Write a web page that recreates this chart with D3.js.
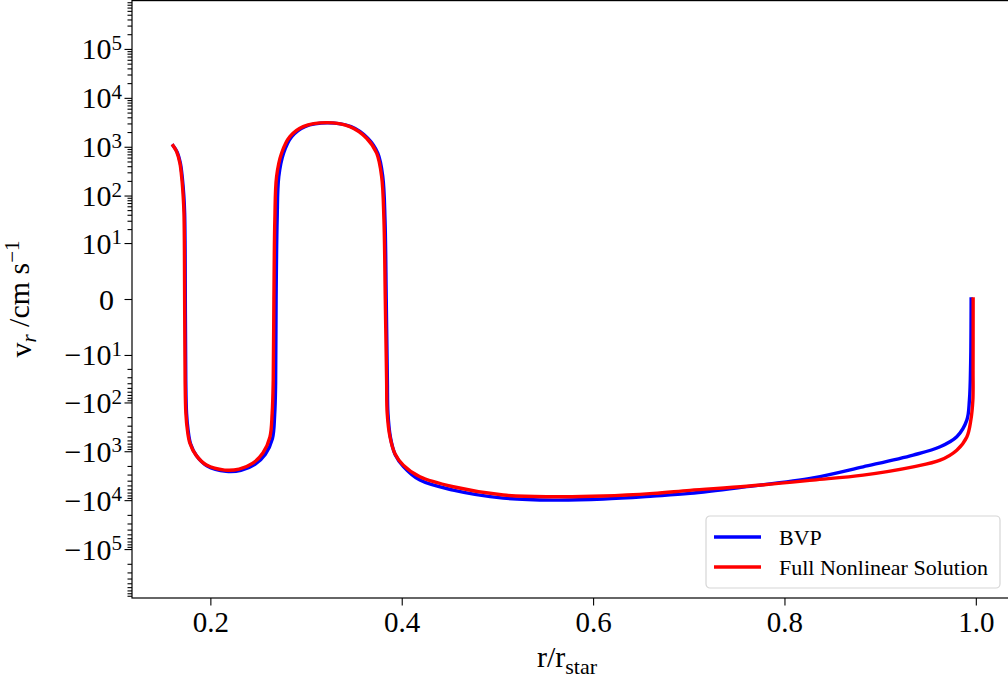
<!DOCTYPE html>
<html>
<head>
<meta charset="utf-8">
<script src="https://cdn.jsdelivr.net/npm/d3@7"></script>
<style>
  body { margin: 0; background: #fff; }
  text { font-family: "Liberation Serif", "DejaVu Serif", serif; fill: #000; }
</style>
</head>
<body>
<svg id="chart" width="1008" height="681"></svg>
<script>
// BVP solution, r/r_star and v_r (cm/s)
var bvpR = [0.1611, 0.1651, 0.1686, 0.1709, 0.1723, 0.1731, 0.1736, 0.1743, 0.1751, 0.1767, 0.1793, 0.1857, 0.1967, 0.2165, 0.2320, 0.2466, 0.2575, 0.2648, 0.2672, 0.2682, 0.2687, 0.2698, 0.2715, 0.2765, 0.2850, 0.2988, 0.3228, 0.3470, 0.3645, 0.3750, 0.3802, 0.3825, 0.3838, 0.3850, 0.3856, 0.3882, 0.3932, 0.4018, 0.4190, 0.4538, 0.5061, 0.5584, 0.6107, 0.6629, 0.7013, 0.7606, 0.8299, 0.8822, 0.9345, 0.9627, 0.9801, 0.9906, 0.9933, 0.9946, 0.9951];
var bvpV = [1050, 796, 467, 210, 96, 44, 7, -35, -166, -369, -700, -1250, -2000, -2560, -2450, -1850, -1150, -560, -180, -40, 0, 32, 245, 738, 1611, 2582, 3080, 2582, 1496, 738, 245, 32, 0, -35, -166, -520, -1180, -2050, -3890, -6220, -9070, -9970, -9500, -8260, -7280, -5300, -3500, -2080, -1200, -810, -506, -231, -90, -15, 0];

// full nonlinear solution
var nlR = [0.1611, 0.1647, 0.1681, 0.1703, 0.1716, 0.1724, 0.1729, 0.1736, 0.1744, 0.1760, 0.1786, 0.1850, 0.1960, 0.2150, 0.2300, 0.2444, 0.2549, 0.2622, 0.2646, 0.2657, 0.2664, 0.2674, 0.2692, 0.2744, 0.2831, 0.2970, 0.3215, 0.3458, 0.3633, 0.3738, 0.3790, 0.3814, 0.3828, 0.3842, 0.3848, 0.3877, 0.3929, 0.4016, 0.4190, 0.4538, 0.5061, 0.5584, 0.6107, 0.6629, 0.7013, 0.7606, 0.8299, 0.8822, 0.9345, 0.9627, 0.9801, 0.9906, 0.9948, 0.9969, 0.9971, 0.9972];
var nlV = [1050, 796, 467, 210, 96, 44, 7, -35, -166, -369, -681, -1200, -1920, -2430, -2320, -1750, -1090, -513, -166, -35, 0, 32, 245, 738, 1611, 2582, 3114, 2582, 1496, 738, 245, 32, 0, -35, -166, -506, -1120, -1920, -3330, -5330, -7870, -8530, -8250, -7280, -6300, -5200, -3890, -3070, -2080, -1520, -950, -510, -230, -90, -20, 0];

var xTicks = [0.2, 0.4, 0.6, 0.8, 1.0];
var yExps = [1, 2, 3, 4, 5];
var seriesNames = ["BVP", "Full Nonlinear Solution"];
var seriesColors = ["#0000ff", "#ff0000"];

var svg = d3.select("#chart");
var plotL = 132, plotR = 1014, plotT = 0, plotB = 598;

var x = d3.scaleLinear().domain([0.1181, 1.0399]).range([plotL, plotR]);
var y = d3.scaleSymlog().constant(0.774).domain([-1e6, 1e6]).range([plotB, plotT]);

// y ticks: major at +-10^k and 0, minor at m*10^k
var yMajor = [0];
var yMinor = [];
yExps.forEach(function(k) {
  yMajor.push(Math.pow(10, k), -Math.pow(10, k));
});
[1, 2, 3, 4, 5].forEach(function(k) {
  for (var m = 2; m <= 9; m++) {
    yMinor.push(m * Math.pow(10, k), -m * Math.pow(10, k));
  }
});

// Lines
var series = [
  { name: seriesNames[0], color: seriesColors[0], data: bvpR.map(function(r, i) { return [r, bvpV[i]]; }) },
  { name: seriesNames[1], color: seriesColors[1], data: nlR.map(function(r, i) { return [r, nlV[i]]; }) }
];

var line = d3.line()
  .x(function(d) { return x(d[0]); })
  .y(function(d) { return y(d[1]); })
  .curve(d3.curveCatmullRom.alpha(0.5));

svg.selectAll(".series")
  .data(series)
  .enter().append("path")
  .attr("class", "series")
  .attr("d", function(d) { return line(d.data); })
  .attr("fill", "none")
  .attr("stroke", function(d) { return d.color; })
  .attr("stroke-width", 3.4)
  .attr("stroke-linecap", "square")
  .attr("stroke-linejoin", "round");

// Frame
svg.append("rect")
  .attr("x", plotL).attr("y", plotT + 0.6)
  .attr("width", plotR - plotL).attr("height", plotB - plotT - 0.6)
  .attr("fill", "none").attr("stroke", "#000").attr("stroke-width", 1.2);

// Y axis
svg.append("g")
  .attr("class", "yminor")
  .attr("transform", "translate(" + plotL + ",0)")
  .call(d3.axisLeft(y).tickValues(yMinor).tickSize(4.5).tickFormat(""));
svg.append("g")
  .attr("class", "ymajor")
  .attr("transform", "translate(" + plotL + ",0)")
  .call(d3.axisLeft(y).tickValues(yMajor).tickSize(7.5).tickFormat(""));
svg.selectAll(".yminor .domain, .ymajor .domain").remove();

// Y tick labels with superscripts
yMajor.forEach(function(v) {
  var t = svg.append("text")
    .attr("y", y(v))
    .attr("dy", "0.35em")
    .attr("font-size", 30)
    .attr("text-anchor", "end");
  if (v == 0) {
    t.attr("x", plotL - 18).text("0");
    return;
  }
  t.attr("x", plotL - 10);
  var k = Math.round(Math.log10(Math.abs(v)));
  t.append("tspan").text((v < 0 ? "\u2212" : "") + "10");
  t.append("tspan").attr("dy", "-0.45em").attr("font-size", 21).text(k);
});

// X axis
var xAxis = svg.append("g")
  .attr("transform", "translate(0," + plotB + ")")
  .call(d3.axisBottom(x).tickValues(xTicks).tickSize(7.5).tickPadding(6).tickFormat(d3.format(".1f")));
xAxis.select(".domain").remove();
xAxis.selectAll(".tick text")
  .attr("font-size", 29)
  .attr("font-family", "Liberation Serif, serif");
svg.selectAll(".tick line").attr("stroke", "#000").attr("stroke-width", 1.1);

// Axis labels
var xl = svg.append("text")
  .attr("x", 567)
  .attr("y", 667)
  .attr("font-size", 30)
  .attr("text-anchor", "middle");
xl.append("tspan").text("r/r");
xl.append("tspan").attr("dy", "0.3em").attr("font-size", 22).text("star");

var yl = svg.append("text")
  .attr("transform", "translate(31," + (plotT + plotB) / 2 + ") rotate(-90)")
  .attr("font-size", 30)
  .attr("text-anchor", "middle");
yl.append("tspan").text("v");
yl.append("tspan").attr("dy", "0.25em").attr("font-size", 21).attr("font-style", "italic").text("r");
yl.append("tspan").attr("dy", "-0.25em").text(" /cm s");
yl.append("tspan").attr("dy", "-0.45em").attr("font-size", 21).text("\u22121");

// Legend
var legend = svg.append("g").attr("transform", "translate(706,516)");
legend.append("rect")
  .attr("width", 294).attr("height", 72).attr("rx", 4)
  .attr("fill", "#fff").attr("fill-opacity", 0.8)
  .attr("stroke", "#d6d6d6").attr("stroke-width", 1.2);
series.forEach(function(s, i) {
  var g = legend.append("g").attr("transform", "translate(0," + (21 + i * 30) + ")");
  g.append("line")
    .attr("x1", 8).attr("x2", 55)
    .attr("stroke", s.color).attr("stroke-width", 3.4);
  g.append("text")
    .attr("x", 73).attr("dy", "0.35em")
    .attr("font-size", 22)
    .text(s.name);
});
</script>
</body>
</html>
